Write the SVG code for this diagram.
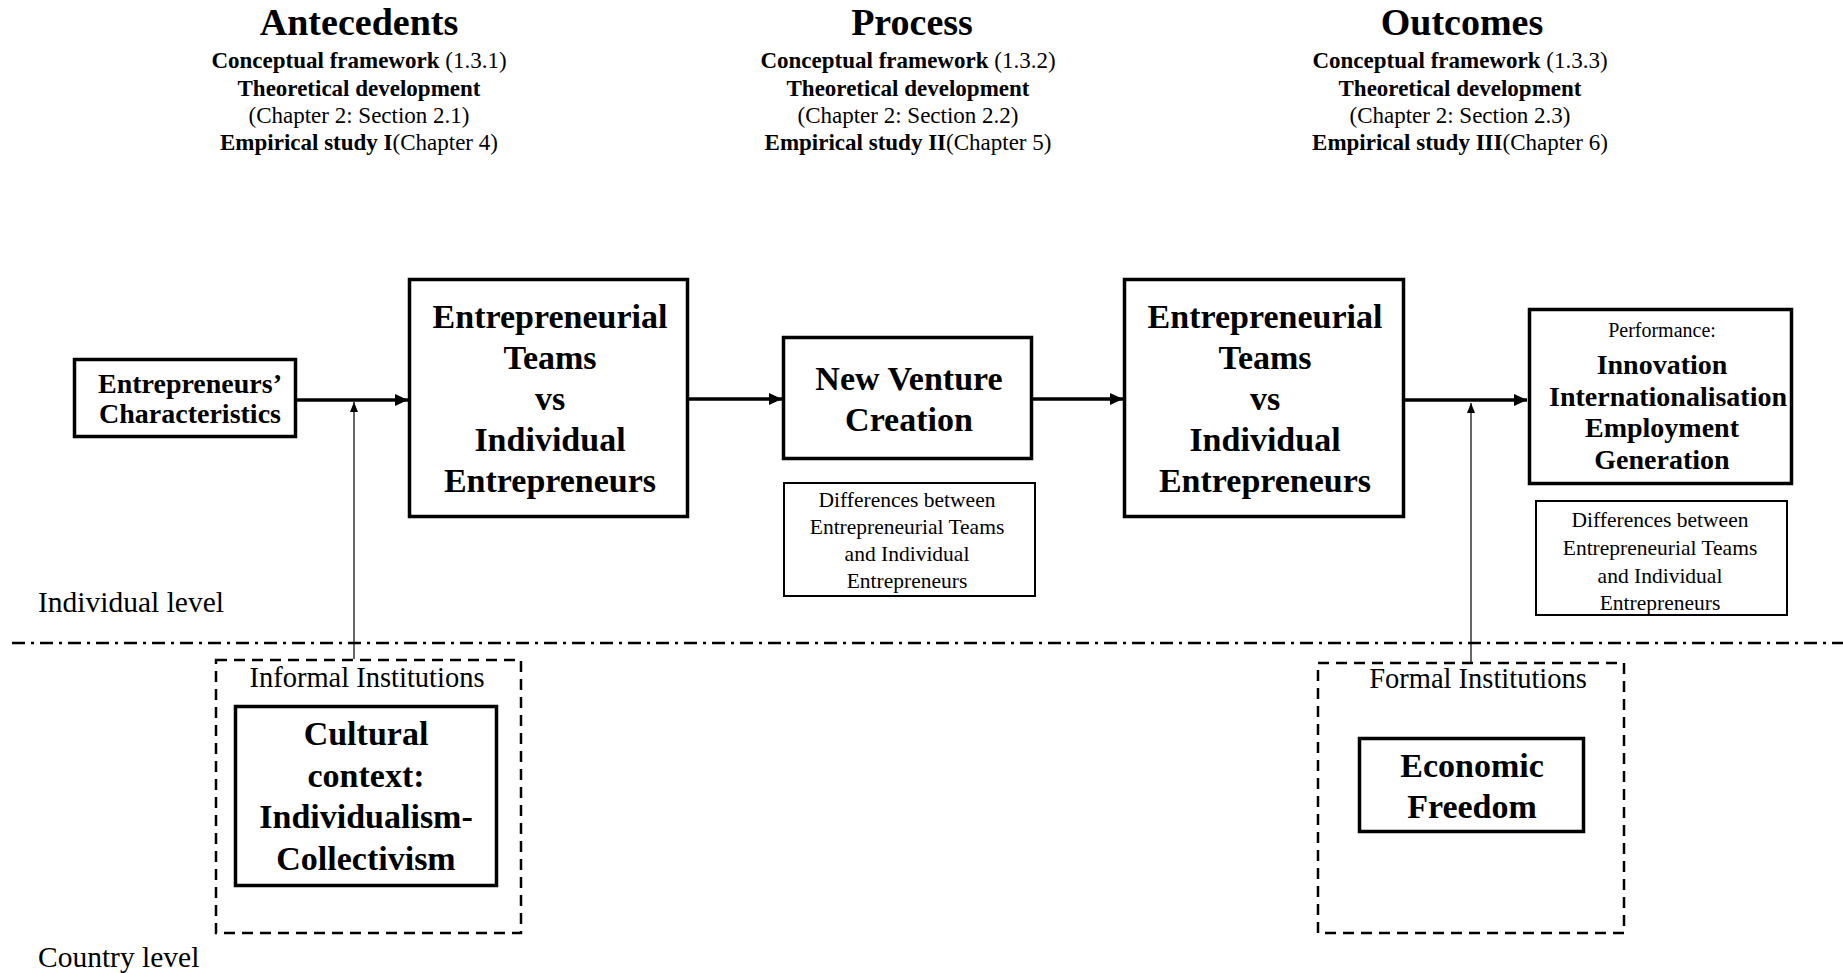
<svg xmlns="http://www.w3.org/2000/svg" width="1843" height="973" viewBox="0 0 1843 973">
<style>
  text { font-family: "Liberation Serif", "Times New Roman", serif; fill: #000; }
  .title { font-size: 38px; font-weight: bold; text-anchor: middle; }
  .sub { font-size: 23px; text-anchor: middle; }
  .b { font-weight: bold; }
  .box { fill: #fff; stroke: #000; stroke-width: 3.5; }
  .thin { fill: #fff; stroke: #000; stroke-width: 2; }
  .dash { fill: none; stroke: #000; stroke-width: 2.5; stroke-dasharray: 11 7; }
  .big { font-size: 34px; font-weight: bold; text-anchor: middle; }
  .mid { font-size: 28px; font-weight: bold; text-anchor: middle; }
  .small { font-size: 21.5px; text-anchor: middle; }
  .lvl { font-size: 29.5px; }
  .inst { font-size: 28.5px; text-anchor: middle; }
  .main { stroke: #000; stroke-width: 3.5; fill: none; }
  .slim { stroke: #000; stroke-width: 1.2; fill: none; }
</style>
<defs>
  <marker id="ah" markerUnits="userSpaceOnUse" markerWidth="14" markerHeight="14" refX="13" refY="7" orient="auto">
    <path d="M0,1 L13,7 L0,13 Z" fill="#000"/>
  </marker>
  <marker id="ahs" markerUnits="userSpaceOnUse" markerWidth="10" markerHeight="10" refX="10" refY="4" orient="auto">
    <path d="M0,0 L10,4 L0,8 Z" fill="#000"/>
  </marker>
</defs>

<g id="headers">
  <g id="antecedents-header">
    <text class="title" x="359" y="35">Antecedents</text>
    <text class="sub" x="359" y="68"><tspan class="b">Conceptual framework</tspan> (1.3.1)</text>
    <text class="sub b" x="359" y="96">Theoretical development</text>
    <text class="sub" x="359" y="123">(Chapter 2: Section 2.1)</text>
    <text class="sub" x="359" y="150"><tspan class="b">Empirical study I</tspan>(Chapter 4)</text>
  </g>
  <g id="process-header">
    <text class="title" x="912" y="35">Process</text>
    <text class="sub" x="908" y="68"><tspan class="b">Conceptual framework</tspan> (1.3.2)</text>
    <text class="sub b" x="908" y="96">Theoretical development</text>
    <text class="sub" x="908" y="123">(Chapter 2: Section 2.2)</text>
    <text class="sub" x="908" y="150"><tspan class="b">Empirical study II</tspan>(Chapter 5)</text>
  </g>
  <g id="outcomes-header">
    <text class="title" x="1462" y="35">Outcomes</text>
    <text class="sub" x="1460" y="68"><tspan class="b">Conceptual framework</tspan> (1.3.3)</text>
    <text class="sub b" x="1460" y="96">Theoretical development</text>
    <text class="sub" x="1460" y="123">(Chapter 2: Section 2.3)</text>
    <text class="sub" x="1460" y="150"><tspan class="b">Empirical study III</tspan>(Chapter 6)</text>
  </g>
</g>

<g id="connectors">
  <line class="main" x1="297" y1="400" x2="408" y2="400" marker-end="url(#ah)"/>
  <line class="main" x1="689" y1="399" x2="782" y2="399" marker-end="url(#ah)"/>
  <line class="main" x1="1033" y1="399" x2="1123" y2="399" marker-end="url(#ah)"/>
  <line class="main" x1="1405" y1="400" x2="1527" y2="400" marker-end="url(#ah)"/>
  <line class="slim" x1="354" y1="659" x2="354" y2="402" marker-end="url(#ahs)"/>
  <line class="slim" x1="1471" y1="662" x2="1471" y2="403" marker-end="url(#ahs)"/>
</g>

<g id="level-divider">
  <line x1="12" y1="643" x2="1843" y2="643" stroke="#000" stroke-width="2.3" stroke-dasharray="13 6 3 6"/>
  <text class="lvl" x="38" y="612">Individual level</text>
  <text class="lvl" x="38" y="967">Country level</text>
</g>

<g id="entrepreneurs-characteristics">
  <rect class="box" x="74.5" y="359.5" width="221" height="77"/>
  <text class="mid" x="190" y="393">Entrepreneurs’</text>
  <text class="mid" x="190" y="423">Characteristics</text>
</g>

<g id="et-vs-ie-1">
  <rect class="box" x="409.5" y="279.5" width="278" height="237"/>
  <text class="big" x="550" y="328">Entrepreneurial</text>
  <text class="big" x="550" y="369">Teams</text>
  <text class="big" x="550" y="410">vs</text>
  <text class="big" x="550" y="451">Individual</text>
  <text class="big" x="550" y="492">Entrepreneurs</text>
</g>

<g id="new-venture-creation">
  <rect class="box" x="783.5" y="337.5" width="248" height="121"/>
  <text class="big" x="909" y="390">New Venture</text>
  <text class="big" x="909" y="431">Creation</text>
</g>

<g id="differences-process">
  <rect class="thin" x="784" y="483" width="251" height="113"/>
  <text class="small" x="907" y="507">Differences between</text>
  <text class="small" x="907" y="534">Entrepreneurial Teams</text>
  <text class="small" x="907" y="561">and Individual</text>
  <text class="small" x="907" y="588">Entrepreneurs</text>
</g>

<g id="et-vs-ie-2">
  <rect class="box" x="1124.5" y="279.5" width="279" height="237"/>
  <text class="big" x="1265" y="328">Entrepreneurial</text>
  <text class="big" x="1265" y="369">Teams</text>
  <text class="big" x="1265" y="410">vs</text>
  <text class="big" x="1265" y="451">Individual</text>
  <text class="big" x="1265" y="492">Entrepreneurs</text>
</g>

<g id="performance">
  <rect class="box" x="1529.5" y="309.5" width="262" height="174"/>
  <text x="1662" y="337" font-size="20" text-anchor="middle">Performance:</text>
  <text class="mid" x="1662" y="374">Innovation</text>
  <text class="mid" x="1668" y="406">Internationalisation</text>
  <text class="mid" x="1662" y="437">Employment</text>
  <text class="mid" x="1662" y="469">Generation</text>
</g>

<g id="differences-outcomes">
  <rect class="thin" x="1536" y="501" width="251" height="114"/>
  <text class="small" x="1660" y="527">Differences between</text>
  <text class="small" x="1660" y="555">Entrepreneurial Teams</text>
  <text class="small" x="1660" y="583">and Individual</text>
  <text class="small" x="1660" y="610">Entrepreneurs</text>
</g>

<g id="informal-institutions">
  <rect class="dash" x="216" y="660" width="305" height="273"/>
  <text class="inst" x="367" y="687">Informal Institutions</text>
  <g id="cultural-context">
    <rect class="box" x="235.5" y="706.5" width="261" height="179"/>
    <text class="big" x="366" y="745">Cultural</text>
    <text class="big" x="366" y="787">context:</text>
    <text class="big" x="366" y="828">Individualism-</text>
    <text class="big" x="366" y="870">Collectivism</text>
  </g>
</g>

<g id="formal-institutions">
  <rect class="dash" x="1318" y="663" width="306" height="270"/>
  <text class="inst" x="1478" y="688">Formal Institutions</text>
  <g id="economic-freedom">
    <rect class="box" x="1359.5" y="738.5" width="224" height="93"/>
    <text class="big" x="1472" y="777">Economic</text>
    <text class="big" x="1472" y="818">Freedom</text>
  </g>
</g>
</svg>
